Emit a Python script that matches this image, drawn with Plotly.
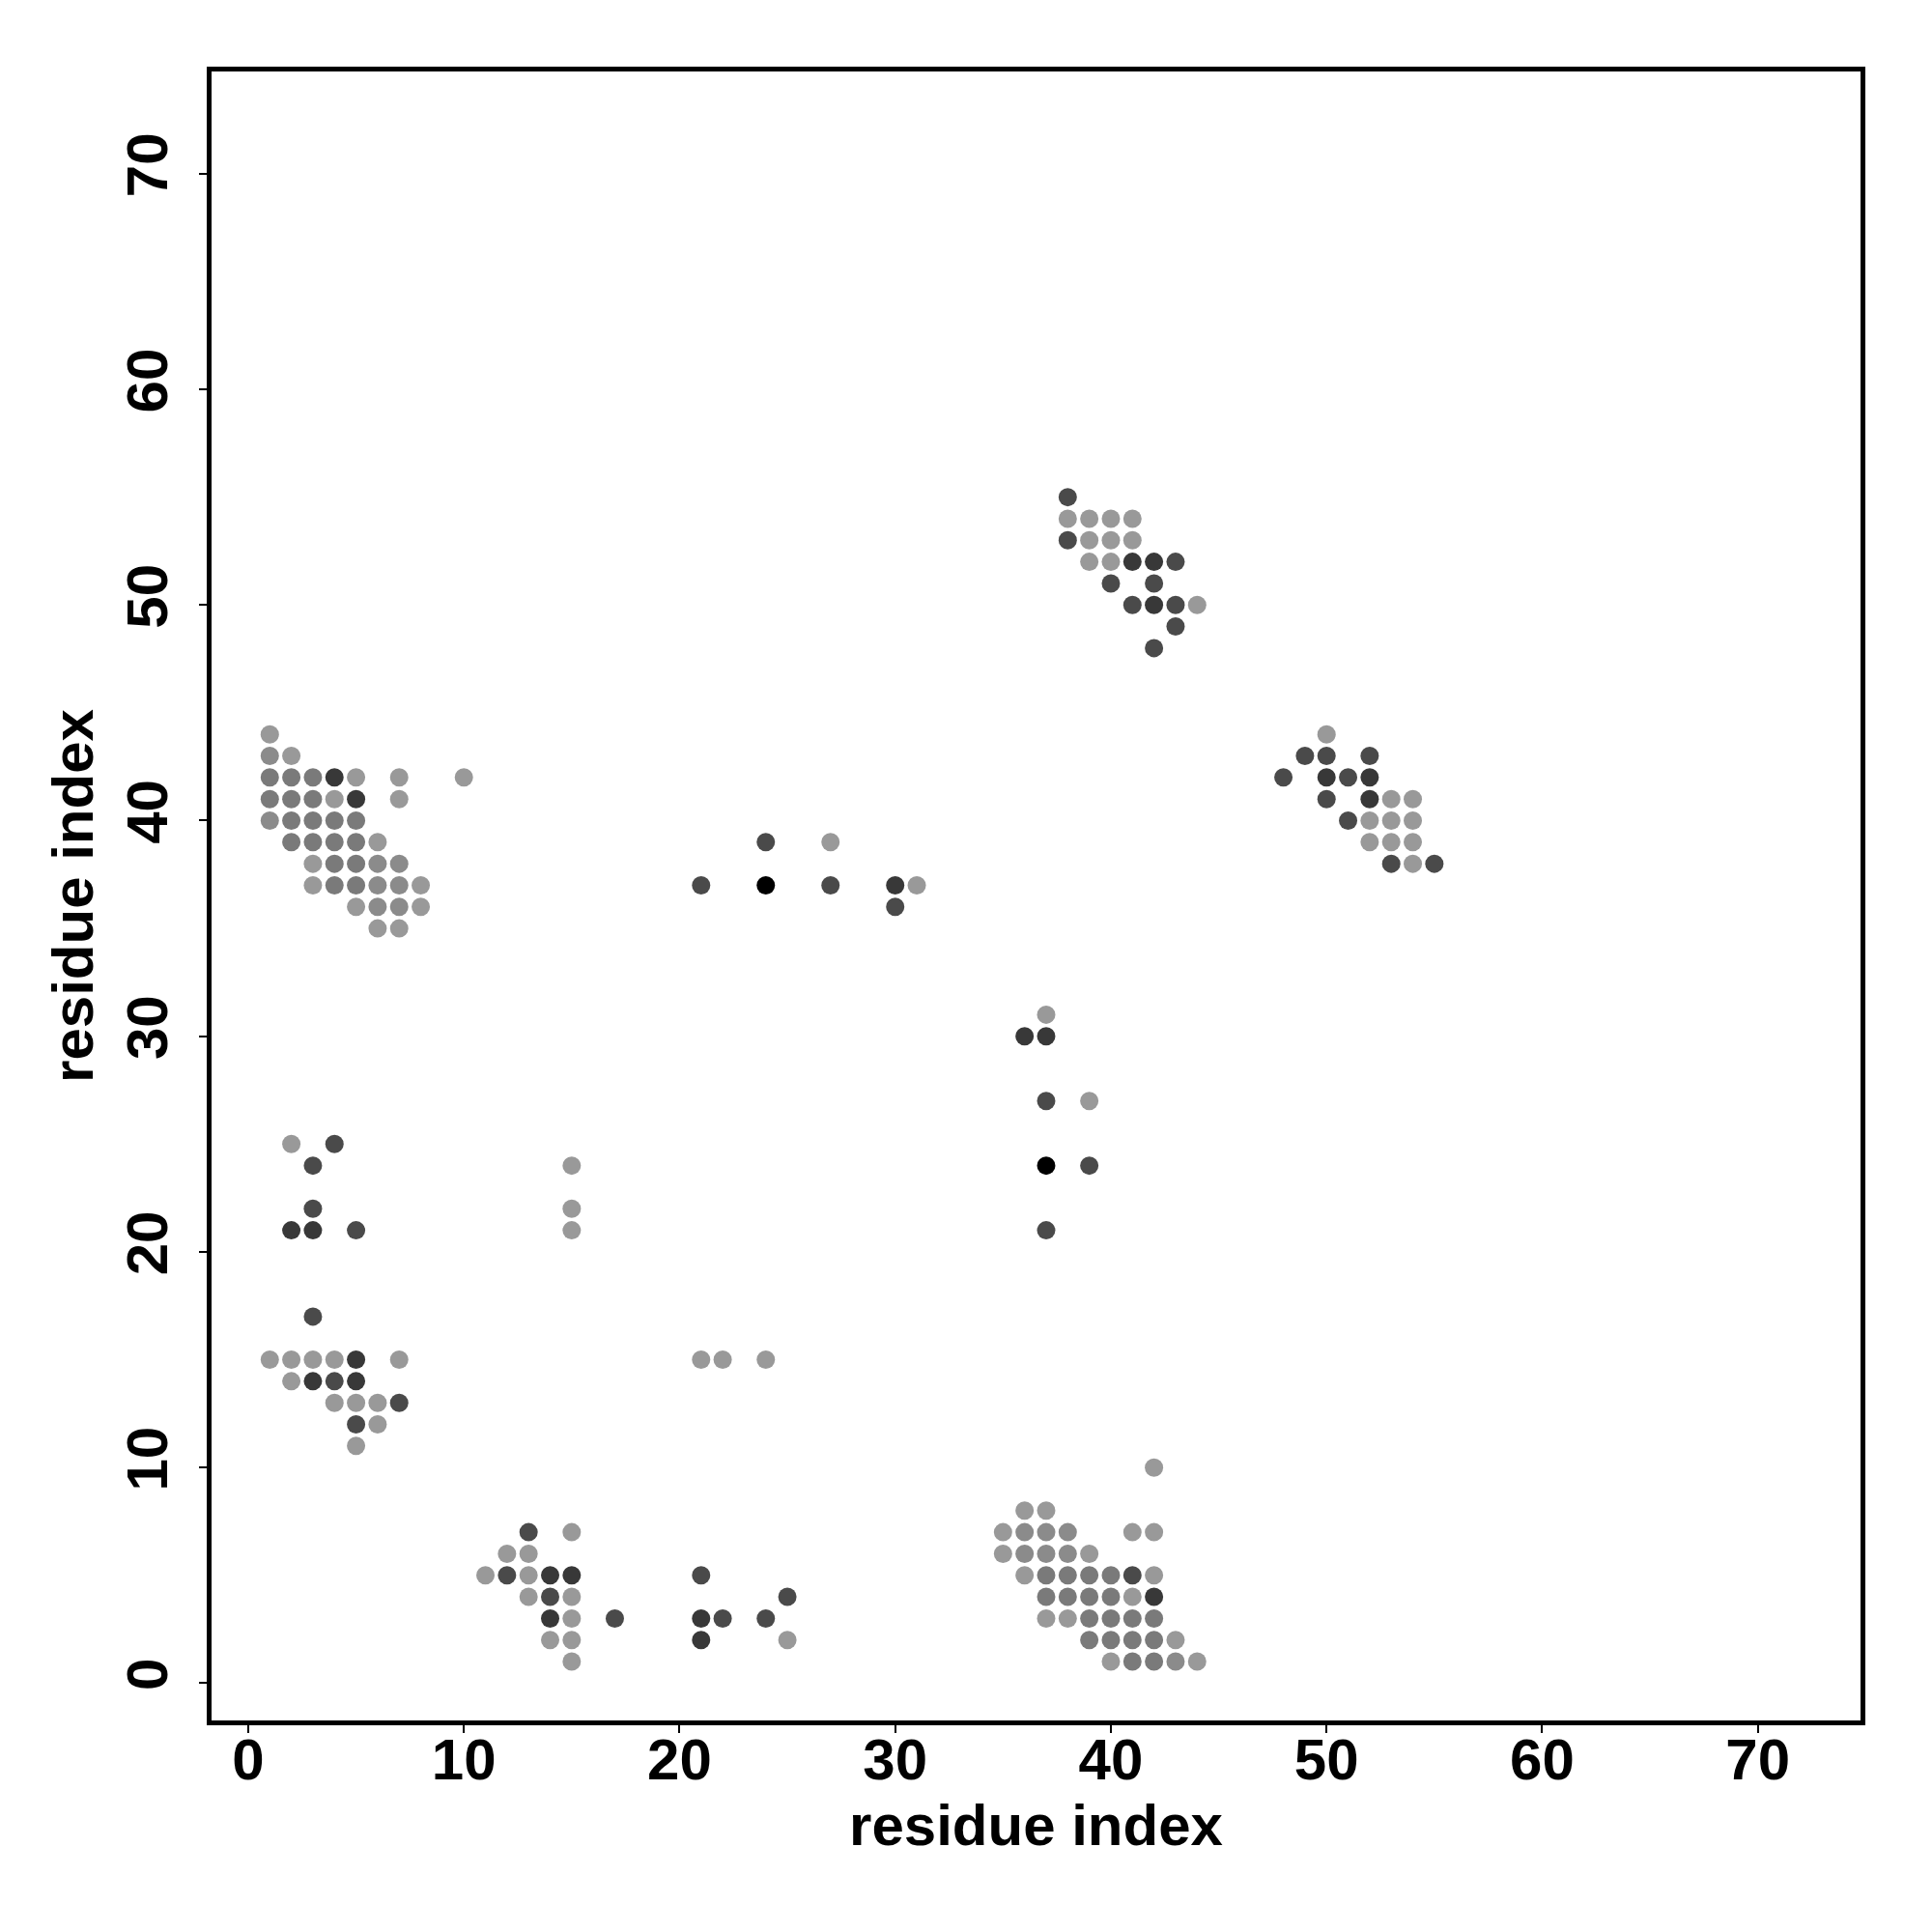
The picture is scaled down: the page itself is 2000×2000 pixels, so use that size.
import plotly.graph_objects as go

# Contact map points grouped by grey shade (residue index i, residue index j)
light_x = [1, 2, 5, 7, 10, 4, 7, 6, 3, 3, 8, 5, 8, 6, 7,
           2, 1, 2, 3, 4, 7, 2, 4, 5, 6, 6, 5,
           15, 15, 15,
           15, 12, 13, 11, 13, 13, 15, 15, 14, 15, 25, 15,
           21, 22, 24,
           42, 36, 37, 35, 41, 42, 35, 39, 36, 42, 41, 37, 38, 43, 40, 44,
           38, 39, 40, 41, 39, 40, 41, 39, 40, 44,
           50, 53, 54, 52, 53, 54, 52, 53, 54, 54,
           27, 31,
           37, 39]
light_y = [44, 43, 42, 42, 42, 41, 41, 39, 38, 37, 37, 36, 36, 35, 35,
           25, 15, 15, 15, 15, 15, 14, 13, 13, 13, 12, 11,
           24, 22, 21,
           7, 6, 6, 5, 5, 4, 4, 3, 2, 2, 2, 1,
           15, 15, 15,
           10, 8, 8, 7, 7, 7, 6, 6, 5, 5, 4, 3, 3, 2, 1, 1,
           54, 54, 54, 54, 53, 53, 53, 52, 52, 50,
           44, 41, 41, 40, 40, 40, 39, 39, 39, 38,
           39, 37,
           31, 27]

midlight_x = [1, 1, 6, 7, 6, 7, 6, 7,
              36, 37, 38, 36, 37, 38, 43]
midlight_y = [43, 40, 38, 38, 37, 37, 36, 36,
              7, 7, 7, 6, 6, 6, 1]

mid_x = [1, 2, 3, 1, 2, 3, 2, 3, 4, 5, 2, 3, 4, 5, 4, 5, 4, 5,
         37, 38, 39, 40, 37, 38, 39, 40, 39, 40, 41, 42, 39, 40, 41, 42, 41, 42]
mid_y = [42, 42, 42, 41, 41, 41, 40, 40, 40, 40, 39, 39, 39, 39, 38, 38, 37, 37,
         5, 5, 5, 5, 4, 4, 4, 4, 3, 3, 3, 3, 2, 2, 2, 2, 1, 1]

dark_x = [4, 3, 3, 5, 3, 4, 7, 5,
          13, 12, 21, 14, 25, 17, 22, 24,
          41,
          38, 38, 43, 40, 42, 41, 43, 43, 42,
          49, 50, 52, 48, 51, 50, 51, 53, 55,
          24, 21, 27, 30,
          37, 39, 37]
dark_y = [25, 24, 22, 21, 17, 14, 13, 12,
          7, 5, 5, 4, 4, 3, 3, 3,
          5,
          55, 53, 52, 51, 51, 50, 50, 49, 48,
          43, 43, 43, 42, 42, 41, 40, 38, 38,
          39, 37, 37, 36,
          27, 24, 21]

darker_x = [4, 5, 2, 3, 5, 3, 5,
            14, 15, 14, 21, 21,
            42,
            41, 42, 42,
            50, 52, 52,
            30,
            36, 37]
darker_y = [42, 41, 21, 21, 15, 14, 14,
            5, 5, 3, 3, 2,
            4,
            52, 52, 50,
            42, 42, 41,
            37,
            30, 30]

black_x = [24, 37]
black_y = [37, 24]

groups = [
    (light_x, light_y, "#999999"),
    (midlight_x, midlight_y, "#8b8b8b"),
    (mid_x, mid_y, "#7a7a7a"),
    (dark_x, dark_y, "#4a4a4a"),
    (darker_x, darker_y, "#383838"),
    (black_x, black_y, "#000000"),
]

tick_vals = [0, 10, 20, 30, 40, 50, 60, 70]

fig = go.Figure()
for gx, gy, col in groups:
    fig.add_trace(go.Scatter(
        x=gx, y=gy, mode="markers",
        marker=dict(size=19, color=col, line=dict(width=0)),
        showlegend=False, hoverinfo="x+y",
    ))

font_main = dict(family="Liberation Sans", size=60, color="black", weight="bold")

axis_common = dict(
    showgrid=False, zeroline=False,
    showline=True, linecolor="black", linewidth=4.5, mirror=True,
    ticks="outside", ticklen=8, tickwidth=2, tickcolor="black",
    tickvals=tick_vals, ticktext=[str(v) for v in tick_vals],
    tickfont=font_main,
)

fig.update_layout(
    width=2000, height=2000,
    paper_bgcolor="white", plot_bgcolor="white",
    margin=dict(l=211, r=82, t=66, b=227, autoexpand=False),
    xaxis=dict(range=[-1.70, 74.76], ticklabelstandoff=-24,
               title=dict(text="residue index", font=font_main, standoff=16),
               **axis_common),
    yaxis=dict(range=[-1.73, 74.74], tickangle=-90, ticklabelstandoff=9,
               title=dict(text="residue index", font=font_main, standoff=5),
               **axis_common),
)

fig.write_html("out.html")
